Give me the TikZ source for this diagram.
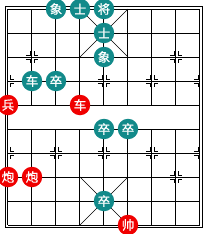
\documentclass[tikz,border=0pt]{standalone}
\usepackage{fontspec}
\newfontfamily\cjk[FakeBold=0.8]{Noto Sans CJK SC}
\definecolor{pteal}{RGB}{18,138,138}
\definecolor{pred}{RGB}{240,0,0}
\begin{document}
\begin{tikzpicture}[x=1pt,y=-1pt,
  gridline/.style={line width=1pt,black},
  frameline/.style={line width=1.5pt,black},
  palace/.style={line width=0.7pt,black},
  marker/.style={line width=0.9pt,black},
  piece/.style={circle,minimum size=20.5pt,inner sep=0pt,text=white,
    font=\cjk\fontsize{12.5}{12.5}\selectfont},
  bside/.style={piece,fill=pteal},
  rside/.style={piece,fill=pred}]
\useasboundingbox (0,0) rectangle (210,234);
\fill[white] (0,0) rectangle (210,234);
% outer frame
\draw[frameline] (5.5,6.5) rectangle (202.5,227.5);
% horizontal lines
\foreach \r in {0,...,9}
  \draw[gridline] (8,{9+24*\r}) -- (200,{9+24*\r});
% side verticals
\draw[gridline] (8,9) -- (8,225);
\draw[gridline] (200,9) -- (200,225);
% inner verticals (broken by the river)
\foreach \c in {1,...,7}{
  \draw[gridline] ({8+24*\c},9) -- ({8+24*\c},105);
  \draw[gridline] ({8+24*\c},129) -- ({8+24*\c},225);
}
% palaces
\draw[palace] (80,9) -- (128,57);
\draw[palace] (128,9) -- (80,57);
\draw[palace] (80,177) -- (128,225);
\draw[palace] (128,177) -- (80,225);
% position markers, left halves
\foreach \c/\r in {1/2,7/2,2/3,4/3,6/3,8/3,2/6,4/6,6/6,8/6,1/7,7/7}{
  \draw[marker] ({8+24*\c-6},{9+24*\r-2}) -- ({8+24*\c-2},{9+24*\r-2}) -- ({8+24*\c-2},{9+24*\r-6});
  \draw[marker] ({8+24*\c-6},{9+24*\r+2}) -- ({8+24*\c-2},{9+24*\r+2}) -- ({8+24*\c-2},{9+24*\r+6});
}
% position markers, right halves
\foreach \c/\r in {1/2,7/2,0/3,2/3,4/3,6/3,0/6,2/6,4/6,6/6,1/7,7/7}{
  \draw[marker] ({8+24*\c+6},{9+24*\r-2}) -- ({8+24*\c+2},{9+24*\r-2}) -- ({8+24*\c+2},{9+24*\r-6});
  \draw[marker] ({8+24*\c+6},{9+24*\r+2}) -- ({8+24*\c+2},{9+24*\r+2}) -- ({8+24*\c+2},{9+24*\r+6});
}
% black (teal) pieces
\node[bside] (bx1) at (56,9) {象};
\node[bside] (bs1) at (80,9) {士};
\node[bside] (bj) at (104,9) {将};
\node[bside] (bs2) at (104,33) {士};
\node[bside] (bx2) at (104,57) {象};
\node[bside] (bc) at (32,81) {车};
\node[bside] (bz1) at (56,81) {卒};
\node[bside] (bz2) at (104,129) {卒};
\node[bside] (bz3) at (128,129) {卒};
\node[bside] (bz4) at (104,201) {卒};
% red pieces
\node[rside] (rb) at (8,105) {兵};
\node[rside] (rc) at (80,105) {车};
\node[rside] (rp1) at (8,177) {炮};
\node[rside] (rp2) at (32,177) {炮};
\node[rside] (rs) at (128,225) {帅};
\end{tikzpicture}
\end{document}
